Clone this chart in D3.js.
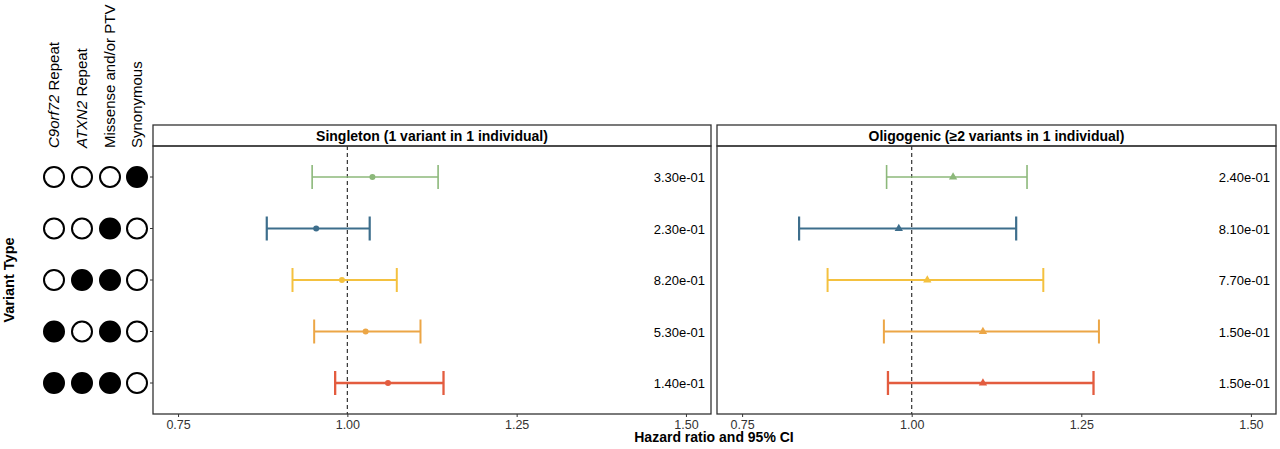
<!DOCTYPE html><html><head><meta charset="utf-8"><script src="https://cdn.jsdelivr.net/npm/d3@7"></script>
<style>body{margin:0;background:#fff}text{font-family:Arial,"Liberation Sans",sans-serif}</style></head><body><svg id="c" width="1280" height="449"></svg>
<script>
const rows=[0,1,2,3,4];
const indicators=["C9orf72 Repeat","ATXN2 Repeat","Missense and/or PTV","Synonymous"];
const filled=[[0,0,0,1],[0,0,1,0],[0,1,1,0],[1,0,1,0],[1,1,1,0]];
const colors=["#8cb87a","#3d6e8c","#f4c13f","#eca646","#e35c3f"];
const widths=[1.6,2.2,2,2,2.3];
const panels=["Singleton (1 variant in 1 individual)","Oligogenic (≥2 variants in 1 individual)"];
const hr=[[1.037,0.954,0.992,1.027,1.060],[1.061,0.981,1.023,1.105,1.105]];
const lo=[[0.948,0.881,0.919,0.951,0.982],[0.963,0.834,0.876,0.959,0.965]];
const hi=[[1.134,1.033,1.073,1.108,1.142],[1.170,1.154,1.194,1.276,1.268]];
const pvals=[["3.30e-01","2.30e-01","8.20e-01","5.30e-01","1.40e-01"],["2.40e-01","8.10e-01","7.70e-01","1.50e-01","1.50e-01"]];
const ticks=[0.75,1.00,1.25,1.50];
const svg=d3.select("#c");
const y=d3.scalePoint().domain(rows).range([177,383]);
const px=[[153,711],[717,1276]];
const stripT=125,stripB=146,bot=414;
panels.forEach((title,p)=>{
  const x=d3.scaleLinear().domain([0.713,1.537]).range(px[p]);
  const g=svg.append("g");
  g.append("rect").attr("x",px[p][0]).attr("y",stripT).attr("width",px[p][1]-px[p][0]).attr("height",stripB-stripT).attr("fill","#fff").attr("stroke","#333").attr("stroke-width",1.3);
  g.append("text").attr("x",(px[p][0]+px[p][1])/2).attr("y",141).attr("text-anchor","middle").attr("font-weight","bold").attr("font-size",14).text(title);
  g.append("rect").attr("x",px[p][0]).attr("y",stripB).attr("width",px[p][1]-px[p][0]).attr("height",bot-stripB).attr("fill","none").attr("stroke","#333").attr("stroke-width",1.3);
  g.append("line").attr("x1",x(1)).attr("x2",x(1)).attr("y1",stripB).attr("y2",bot).attr("stroke","#333").attr("stroke-dasharray","4,3").attr("stroke-width",1.2);
  const ax=g.append("g").attr("transform",`translate(0,${bot})`).call(d3.axisBottom(x).tickValues(ticks).tickFormat(d3.format(".2f")).tickSize(3).tickPadding(3));
  ax.select(".domain").remove();
  ax.selectAll("text").attr("font-size",12.5).attr("fill","#333").style("font-family","Arial,'Liberation Sans',sans-serif");
  ax.selectAll("line").attr("stroke","#333");
  if(p===0){rows.forEach(r=>g.append("line").attr("x1",px[0][0]-3).attr("x2",px[0][0]).attr("y1",y(r)).attr("y2",y(r)).attr("stroke","#333"));}
  rows.forEach(r=>{
    const c=colors[r],w=widths[r],yy=y(r);
    g.append("line").attr("x1",x(lo[p][r])).attr("x2",x(hi[p][r])).attr("y1",yy).attr("y2",yy).attr("stroke",c).attr("stroke-width",w);
    [lo[p][r],hi[p][r]].forEach(v=>g.append("line").attr("x1",x(v)).attr("x2",x(v)).attr("y1",yy-12).attr("y2",yy+12).attr("stroke",c).attr("stroke-width",w));
    if(p===0) g.append("circle").attr("cx",x(hr[p][r])).attr("cy",yy).attr("r",3).attr("fill",c);
    else g.append("path").attr("transform",`translate(${x(hr[p][r])},${yy})`).attr("d",d3.symbol(d3.symbolTriangle,30)()).attr("fill",c);
    g.append("text").attr("x",px[p][1]-6).attr("y",yy+5).attr("text-anchor","end").attr("font-size",13).text(pvals[p][r]);
  });
});
const cx=[54,82,110,137];
rows.forEach(r=>indicators.forEach((ind,i)=>svg.append("circle").attr("cx",cx[i]).attr("cy",y(r)).attr("r",10).attr("fill",filled[r][i]?"#000":"#fff").attr("stroke","#000").attr("stroke-width",2)));
indicators.forEach((ind,i)=>{
  const t=svg.append("text").attr("transform",`translate(${cx[i]+5},148) rotate(-90)`).attr("font-size",15);
  if(i===0){t.append("tspan").attr("font-style","italic").text("C9orf72");t.append("tspan").text(" Repeat");}
  else if(i===1){t.append("tspan").attr("font-style","italic").text("ATXN2");t.append("tspan").text(" Repeat");}
  else t.text(ind);
});
svg.append("text").attr("transform","translate(14,280) rotate(-90)").attr("text-anchor","middle").attr("font-weight","bold").attr("font-size",14.5).text("Variant Type");
svg.append("text").attr("x",714).attr("y",442).attr("text-anchor","middle").attr("font-weight","bold").attr("font-size",14).text("Hazard ratio and 95% CI");
</script></body></html>
